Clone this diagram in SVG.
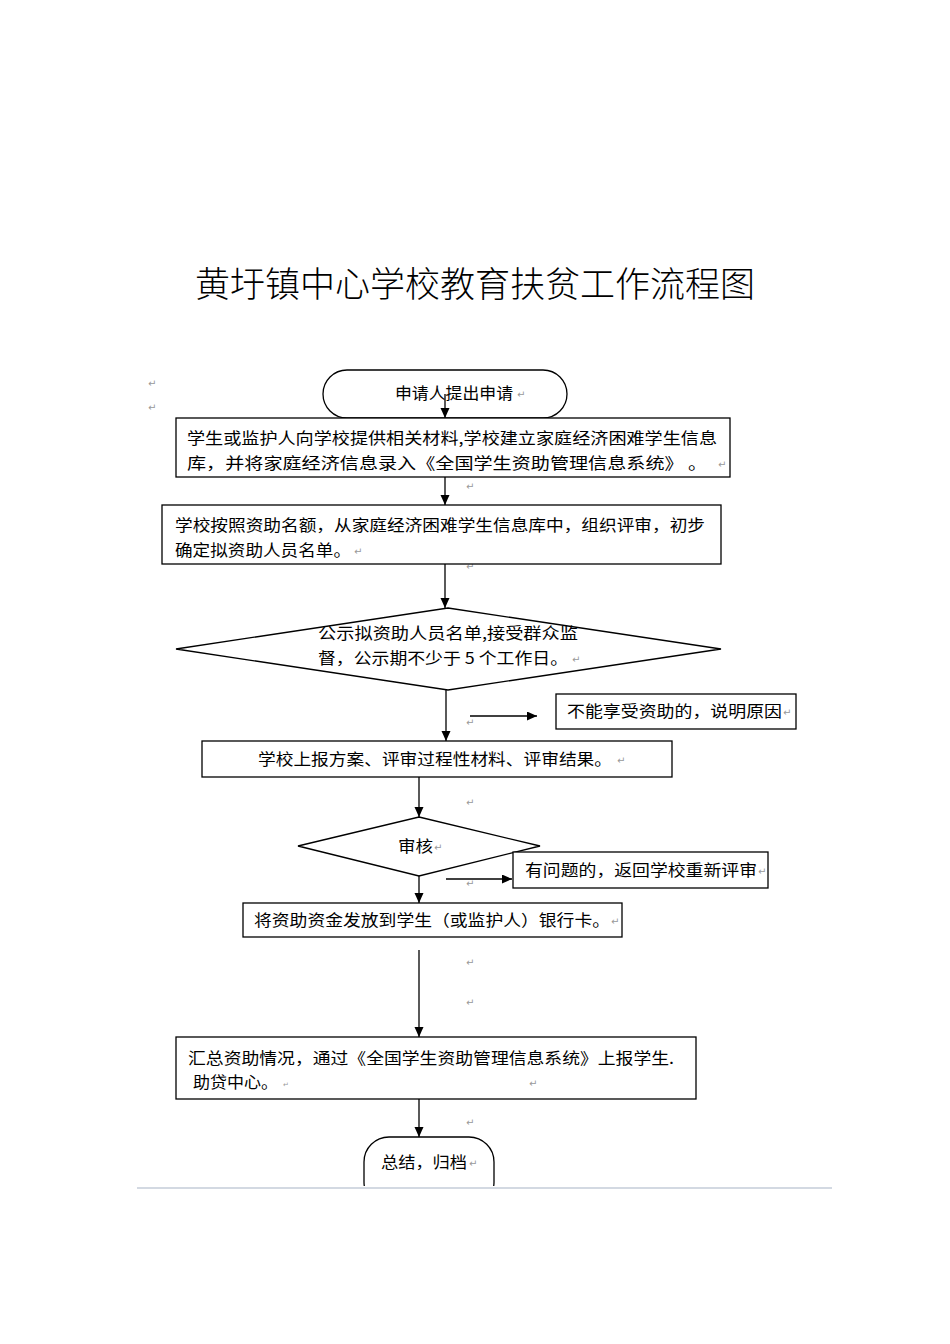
<svg xmlns="http://www.w3.org/2000/svg" width="950" height="1344" viewBox="0 0 950 1344">
<style>
.shape{fill:#fff;stroke:#000;stroke-width:1.3}
.t{font-family:"Noto Sans CJK SC","Noto Sans CJK JP",sans-serif;font-size:16px;fill:#000}
.title{font-family:"Noto Sans CJK SC","Noto Sans CJK JP",sans-serif;font-size:35px;font-weight:300;fill:#000}
.rm{font-family:"DejaVu Sans",sans-serif;font-size:10px;fill:#999}
.c{stroke:#000;stroke-width:1.3;fill:none}
</style>
<defs>
<marker id="ah" markerUnits="userSpaceOnUse" markerWidth="10" markerHeight="10" refX="10" refY="4.5" orient="auto">
<path d="M0,0 L10,4.5 L0,9 z" fill="#000"/>
</marker>
<clipPath id="cut"><rect x="0" y="0" width="950" height="1186"/></clipPath>
</defs>
<rect width="950" height="1344" fill="#fff"/>
<text class="title" x="475" y="297" text-anchor="middle" textLength="560" lengthAdjust="spacingAndGlyphs">黄圩镇中心学校教育扶贫工作流程图</text>

<g id="marks">
<text class="rm" x="148" y="387">↵</text>
<text class="rm" x="148" y="411">↵</text>
<text class="rm" x="466" y="490">↵</text>
<text class="rm" x="466" y="570">↵</text>
<text class="rm" x="466" y="726">↵</text>
<text class="rm" x="466" y="806">↵</text>
<text class="rm" x="466" y="887">↵</text>
<text class="rm" x="466" y="966">↵</text>
<text class="rm" x="466" y="1006">↵</text>
<text class="rm" x="466" y="1126">↵</text>
</g>

<g id="start">
<rect class="shape" x="323" y="370" width="244" height="48" rx="24" ry="24"/>
<text class="t" x="395" y="399" textLength="118" lengthAdjust="spacingAndGlyphs">申请人提出申请</text>
<text class="rm" x="517" y="398">↵</text>
</g>

<g id="n1">
<rect class="shape" x="176" y="418" width="554" height="59"/>
<text class="t" x="187" y="444" textLength="530" lengthAdjust="spacingAndGlyphs">学生或监护人向学校提供相关材料,学校建立家庭经济困难学生信息</text>
<text class="t" x="187" y="469" textLength="520" lengthAdjust="spacingAndGlyphs">库，并将家庭经济信息录入《全国学生资助管理信息系统》 。</text>
<text class="rm" x="718" y="468">↵</text>
</g>

<g id="n2">
<rect class="shape" x="162" y="505" width="559" height="59"/>
<text class="t" x="175" y="531" textLength="530" lengthAdjust="spacingAndGlyphs">学校按照资助名额，从家庭经济困难学生信息库中，组织评审，初步</text>
<text class="t" x="175" y="556" textLength="176" lengthAdjust="spacingAndGlyphs">确定拟资助人员名单。</text>
<text class="rm" x="354" y="555">↵</text>
</g>

<g id="n3">
<polygon class="shape" points="448,608 721,649 448,690 176,649"/>
<text class="t" x="318" y="639" textLength="260" lengthAdjust="spacingAndGlyphs">公示拟资助人员名单,接受群众监</text>
<text class="t" x="318" y="664" textLength="250" lengthAdjust="spacingAndGlyphs">督，公示期不少于 5 个工作日。</text>
<text class="rm" x="572" y="663">↵</text>
</g>

<g id="n4">
<rect class="shape" x="556" y="694" width="240" height="35"/>
<text class="t" x="567" y="717" textLength="215" lengthAdjust="spacingAndGlyphs">不能享受资助的，说明原因</text>
<text class="rm" x="783" y="716">↵</text>
</g>

<g id="n5">
<rect class="shape" x="202" y="741" width="470" height="36"/>
<text class="t" x="258" y="765" textLength="354" lengthAdjust="spacingAndGlyphs">学校上报方案、评审过程性材料、评审结果。</text>
<text class="rm" x="617" y="764">↵</text>
</g>

<g id="n6">
<polygon class="shape" points="419,817 540,846 419,876 298,846"/>
<text class="t" x="398" y="852" textLength="35" lengthAdjust="spacingAndGlyphs">审核</text>
<text class="rm" x="434" y="851">↵</text>
</g>

<g id="n7">
<rect class="shape" x="513" y="852" width="255" height="36"/>
<text class="t" x="525" y="876" textLength="232" lengthAdjust="spacingAndGlyphs">有问题的，返回学校重新评审</text>
<text class="rm" x="758" y="875">↵</text>
</g>

<g id="n8">
<rect class="shape" x="243" y="903" width="379" height="34"/>
<text class="t" x="254" y="926" textLength="356" lengthAdjust="spacingAndGlyphs">将资助资金发放到学生（或监护人）银行卡。</text>
<text class="rm" x="611" y="925">↵</text>
</g>

<g id="n9">
<rect class="shape" x="176" y="1037" width="520" height="62"/>
<text class="t" x="188" y="1064" textLength="486" lengthAdjust="spacingAndGlyphs">汇总资助情况，通过《全国学生资助管理信息系统》上报学生.</text>
<text class="t" x="193" y="1088" textLength="85" lengthAdjust="spacingAndGlyphs">助贷中心。</text>
<text class="rm" x="283" y="1087" style="font-size:7px">↵</text>
<text class="rm" x="529" y="1087">↵</text>
</g>

<g id="end">
<rect class="shape" x="364" y="1137" width="130" height="70" rx="25" ry="25" clip-path="url(#cut)"/>
<text class="t" x="381" y="1168" textLength="86" lengthAdjust="spacingAndGlyphs">总结，归档</text>
<text class="rm" x="469" y="1167">↵</text>
</g>

<line x1="137" y1="1188" x2="832" y2="1188" stroke="#c5cdd8" stroke-width="1.5"/>

<g id="connectors">
<line class="c" x1="445" y1="394" x2="445" y2="418" marker-end="url(#ah)"/>
<line class="c" x1="445" y1="477" x2="445" y2="505" marker-end="url(#ah)"/>
<line class="c" x1="445" y1="564" x2="445" y2="608" marker-end="url(#ah)"/>
<line class="c" x1="446" y1="690" x2="446" y2="741" marker-end="url(#ah)"/>
<line class="c" x1="470" y1="716" x2="537" y2="716" marker-end="url(#ah)"/>
<line class="c" x1="419" y1="777" x2="419" y2="817" marker-end="url(#ah)"/>
<line class="c" x1="446" y1="879" x2="512" y2="879" marker-end="url(#ah)"/>
<line class="c" x1="419" y1="876" x2="419" y2="903" marker-end="url(#ah)"/>
<line class="c" x1="419" y1="950" x2="419" y2="1037" marker-end="url(#ah)"/>
<line class="c" x1="419" y1="1099" x2="419" y2="1137" marker-end="url(#ah)"/>
</g>
</svg>
